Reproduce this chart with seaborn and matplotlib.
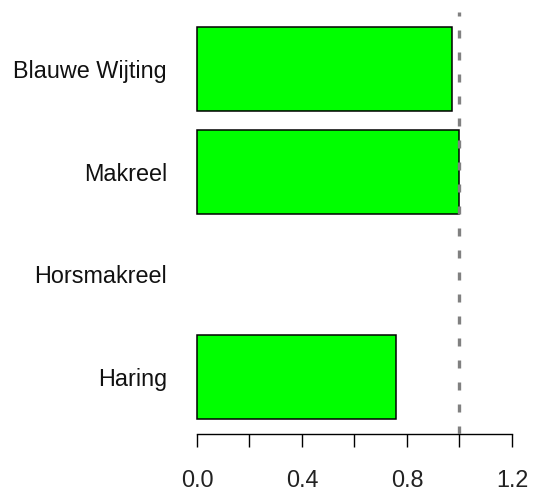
import numpy as np
import pandas as pd
import matplotlib
matplotlib.use("Agg")
import matplotlib.pyplot as plt
import seaborn as sns

# Data
soorten = ["Blauwe Wijting", "Makreel", "Horsmakreel", "Haring"]
waarden = [0.973, 1.0, np.nan, 0.758]
xticks = [0.0, 0.2, 0.4, 0.6, 0.8, 1.0, 1.2]
xlabels = ["0.0", "", "0.4", "", "0.8", "", "1.2"]
referentie = 1.0

df = pd.DataFrame({"soort": soorten, "waarde": waarden})

sns.set_style("white")
plt.rcParams["font.family"] = ["Liberation Sans", "DejaVu Sans"]

fig = plt.figure(figsize=(5.34, 4.93), dpi=100)
ax = fig.add_axes([0.3453, 0.1197, 0.637, 0.8560])

sns.barplot(data=df, x="waarde", y="soort", order=soorten, orient="h",
            color="#00FF00", saturation=1, width=0.82, errorbar=None,
            edgecolor="black", linewidth=1.1, ax=ax)

# referentielijn
ax.axvline(referentie, color="#808080", lw=2.4, linestyle=(0, (2.4, 4.2)), zorder=3)

ax.set_xlim(-0.048, 1.248)
ax.set_ylim(3.555, -0.555)
ax.set_xticks(xticks)
ax.set_xticklabels(xlabels, fontsize=16.8, color="#222222")
ax.tick_params(axis="x", bottom=True, length=9.5, width=1.0, color="black", pad=16)
ax.tick_params(axis="y", left=False, length=0, labelsize=16.8, pad=12.6, labelcolor="#111111")
ax.set_xlabel("")
ax.set_ylabel("")

for s in ["top", "right", "left"]:
    ax.spines[s].set_visible(False)
ax.spines["bottom"].set_bounds(0, 1.2)
ax.spines["bottom"].set_color("black")
ax.spines["bottom"].set_linewidth(1.0)

fig.savefig("out.png", dpi=100)
